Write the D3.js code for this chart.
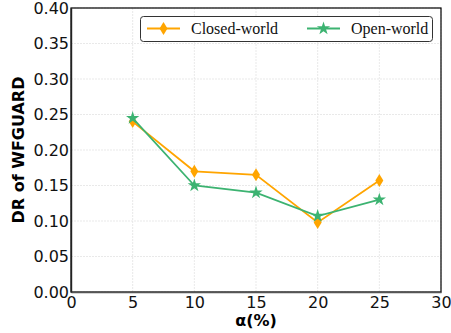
<!DOCTYPE html>
<html lang="en">
<head>
<meta charset="UTF-8">
<title>DR of WFGUARD</title>
<script src="https://cdn.jsdelivr.net/npm/d3@7/dist/d3.min.js"></script>
<style>
  body { margin: 0; background: #fff; }
  svg { display: block; }
</style>
</head>
<body>
<svg id="svg"></svg>
<script>
  // data
  var alphas = [5, 10, 15, 20, 25];
  var closedWorld = [0.240, 0.170, 0.165, 0.098, 0.157];
  var openWorld = [0.245, 0.150, 0.140, 0.107, 0.130];
  var xTicks = [0, 5, 10, 15, 20, 25, 30];
  var yTicks = [0, 0.05, 0.10, 0.15, 0.20, 0.25, 0.30, 0.35, 0.40];

  var width = 451, height = 333;
  var margin = {top: 8, right: 10, bottom: 41, left: 71};
  var svg = d3.select("#svg").attr("width", width).attr("height", height);

  var x = d3.scaleLinear().domain([0, 30]).range([margin.left, width - margin.right]);
  var y = d3.scaleLinear().domain([0, 0.40]).range([height - margin.bottom, margin.top]);

  // grid
  var grid = svg.append("g");
  grid.selectAll("line.vx").data(xTicks).enter().append("line")
      .attr("x1", function (d) { return x(d); })
      .attr("x2", function (d) { return x(d); })
      .attr("y1", y(0)).attr("y2", y(0.40))
      .style("stroke", "#e3e3e3").style("stroke-width", 0.8)
      .style("stroke-dasharray", "2,1");
  grid.selectAll("line.hy").data(yTicks).enter().append("line")
      .attr("x1", x(0)).attr("x2", x(30))
      .attr("y1", function (d) { return y(d); })
      .attr("y2", function (d) { return y(d); })
      .style("stroke", "#e3e3e3").style("stroke-width", 0.8)
      .style("stroke-dasharray", "2,1");

  // frame
  svg.append("rect")
      .attr("x", x(0)).attr("y", y(0.40))
      .attr("width", x(30) - x(0)).attr("height", y(0) - y(0.40))
      .style("fill", "none").style("stroke", "#000").style("stroke-width", 1.2);

  // axes
  var xAxis = svg.append("g")
      .attr("transform", "translate(0," + y(0) + ")")
      .call(d3.axisBottom(x).tickValues(xTicks).tickSize(0).tickPadding(3).tickFormat(d3.format("d")));
  var yAxis = svg.append("g")
      .attr("transform", "translate(" + x(0) + ",0)")
      .call(d3.axisLeft(y).tickValues(yTicks).tickSize(0).tickPadding(2).tickFormat(d3.format(".2f")));
  xAxis.select(".domain").style("stroke", "#555").style("stroke-width", 1.6);
  yAxis.select(".domain").style("stroke", "#222").style("stroke-width", 1.4);
  svg.selectAll(".tick text")
      .style("font-family", "DejaVu Sans")
      .style("font-size", "16px")
      .style("fill", "#111");
  xAxis.selectAll(".tick text").attr("dy", "0.8em");

  // axis titles
  svg.append("text")
      .attr("x", (x(0) + x(30)) / 2).attr("y", 326)
      .attr("text-anchor", "middle")
      .style("font-family", "DejaVu Sans").style("font-weight", "bold").style("font-size", "16px")
      .text("α(%)");
  svg.append("text")
      .attr("transform", "translate(24," + ((y(0) + y(0.40)) / 2) + ") rotate(-90)")
      .attr("text-anchor", "middle")
      .style("font-family", "DejaVu Sans").style("font-weight", "bold").style("font-size", "16px")
      .text("DR of WFGUARD");

  var diamond = "M0,-6.5L4,0L0,6.5L-4,0Z";
  var star = d3.symbol().type(d3.symbolStar).size(55)();

  var series = [
    {name: "Closed-world", values: closedWorld, color: "#FFA500", marker: diamond},
    {name: "Open-world", values: openWorld, color: "#3CB371", marker: star}
  ];

  var line = d3.line()
      .x(function (d) { return x(d[0]); })
      .y(function (d) { return y(d[1]); });

  series.forEach(function (s) {
    var pts = alphas.map(function (a, i) { return [a, s.values[i]]; });
    svg.append("path")
        .datum(pts)
        .attr("d", line)
        .style("fill", "none")
        .style("stroke", s.color)
        .style("stroke-width", 1.8);
    svg.append("g").selectAll("path")
        .data(pts).enter().append("path")
        .attr("transform", function (d) { return "translate(" + x(d[0]) + "," + y(d[1]) + ")"; })
        .attr("d", s.marker)
        .style("fill", s.color);
  });

  // legend
  var legend = svg.append("g");
  legend.append("rect")
      .attr("x", 140.5).attr("y", 16.5).attr("width", 292).attr("height", 25)
      .attr("rx", 3)
      .style("fill", "#fff").style("stroke", "#333").style("stroke-width", 1);
  var legendPos = [147, 307];
  series.forEach(function (s, i) {
    var lx = legendPos[i];
    legend.append("line")
        .attr("x1", lx).attr("x2", lx + 33).attr("y1", 28.5).attr("y2", 28.5)
        .style("stroke", s.color).style("stroke-width", 1.8);
    legend.append("path")
        .attr("transform", "translate(" + (lx + 16.5) + ",28.5)")
        .attr("d", s.marker)
        .style("fill", s.color);
    legend.append("text")
        .attr("x", lx + 44).attr("y", 34)
        .style("font-family", "Liberation Serif").style("font-size", "16px")
        .style("fill", "#111")
        .text(s.name);
  });
</script>
</body>
</html>
